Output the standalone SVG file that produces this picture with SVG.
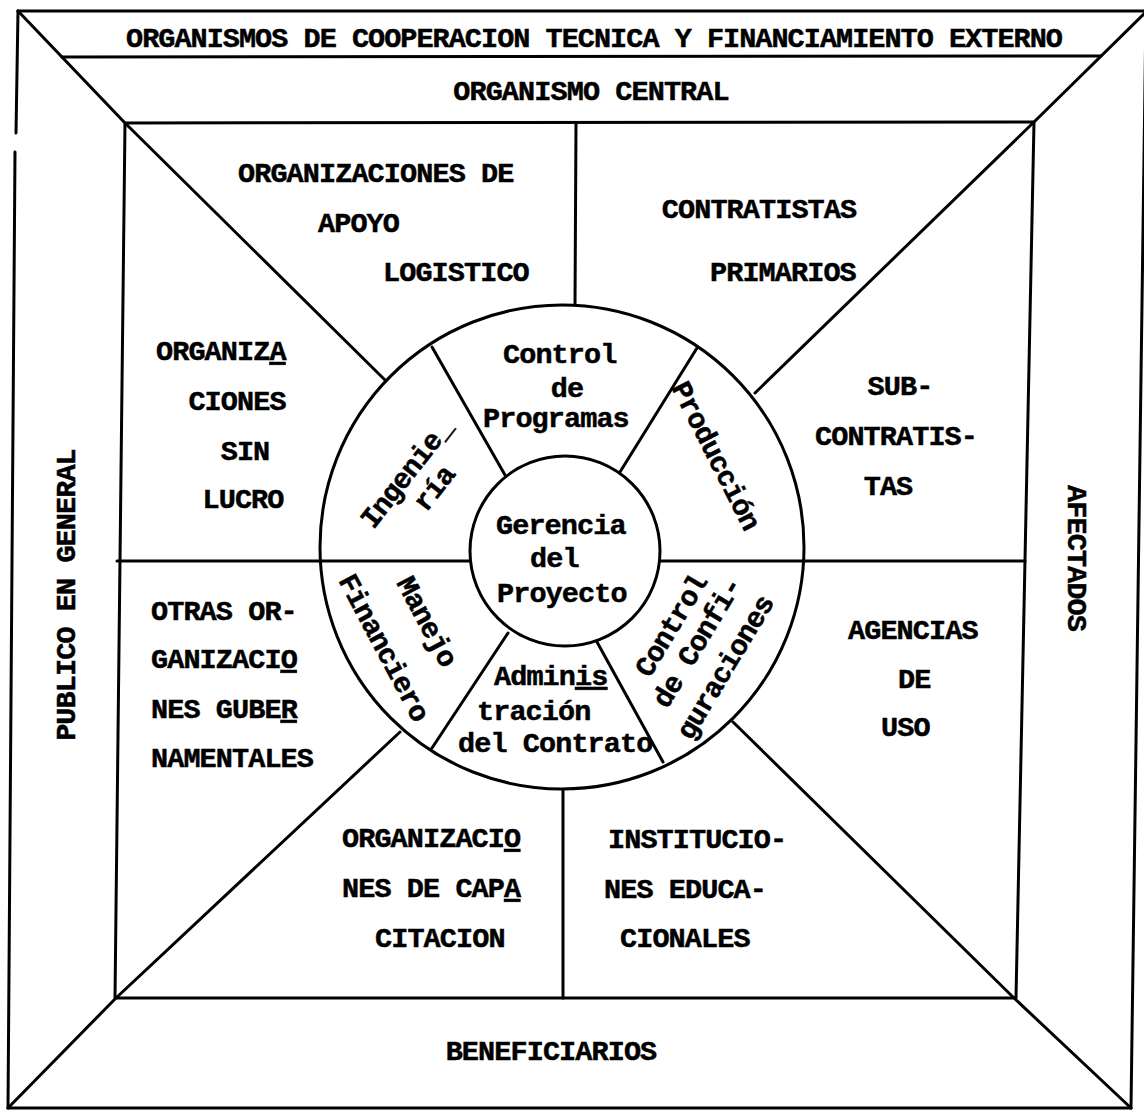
<svg xmlns="http://www.w3.org/2000/svg" width="1144" height="1110" viewBox="0 0 1144 1110">
<style>
.ln{fill:none;stroke:#000;stroke-width:3;stroke-linecap:round;stroke-linejoin:round}
.t{font-family:"Liberation Mono","Courier New",monospace;font-weight:bold;font-size:28.5px;letter-spacing:-0.9px;fill:#000;stroke:#000;stroke-width:0.5}
.m{text-anchor:middle}
.u{text-decoration:underline}
</style>
<rect width="1144" height="1110" fill="#fff"/>
<g id="connectors" class="ln">
<line x1="18" y1="11" x2="1146" y2="11"/>
<line x1="1146" y1="11" x2="1131" y2="1108"/>
<line x1="1131" y1="1108" x2="8" y2="1108"/>
<line x1="8" y1="1108" x2="15" y2="152"/>
<line x1="16" y1="133" x2="18" y2="11"/>
<line x1="62" y1="57" x2="1101" y2="56"/>
<polygon points="125,123 1034,122 1016,998 115,998"/>
<polyline points="18,11 125,123 385,380"/>
<polyline points="1146,12 1034,122 755,393"/>
<polyline points="8,1108 116,998 400,732"/>
<polyline points="1131,1108 1014,998 733,722"/>
<line x1="117" y1="561" x2="470" y2="561"/>
<line x1="660" y1="561" x2="1025" y2="561"/>
<line x1="576" y1="123" x2="575" y2="305"/>
<line x1="563" y1="790" x2="563" y2="998"/>
<circle cx="562" cy="547" r="242"/>
<line x1="432" y1="347" x2="505" y2="475"/>
<line x1="697" y1="348" x2="620" y2="472"/>
<line x1="432" y1="748" x2="508" y2="633"/>
<line x1="663" y1="762" x2="597" y2="642"/>
</g>
<g id="externo" class="t"><text x="126" y="47" textLength="936" lengthAdjust="spacing">ORGANISMOS DE COOPERACION TECNICA Y FINANCIAMIENTO EXTERNO</text></g>
<g id="central" class="t"><text class="m" x="591" y="100">ORGANISMO CENTRAL</text></g>
<g id="apoyo" class="t">
<text x="238" y="182">ORGANIZACIONES  DE</text>
<text x="318" y="232">APOYO</text>
<text x="383" y="281">LOGISTICO</text>
</g>
<g id="contratistas" class="t">
<text class="m" x="759" y="218">CONTRATISTAS</text>
<text x="710" y="281">PRIMARIOS</text>
</g>
<g id="sinlucro" class="t">
<text x="156" y="360">ORGANIZ<tspan class="u">A</tspan></text>
<text class="m" x="237" y="410">CIONES</text>
<text class="m" x="245" y="460">SIN</text>
<text class="m" x="243" y="508">LUCRO</text>
</g>
<g id="subcontratistas" class="t">
<text class="m" x="900" y="395">SUB-</text>
<text class="m" x="896" y="445">CONTRATIS-</text>
<text class="m" x="888" y="495">TAS</text>
</g>
<g id="gubernamentales" class="t">
<text x="151" y="620">OTRAS OR-</text>
<text x="151" y="668">GANIZACI<tspan class="u">O</tspan></text>
<text x="151" y="718">NES GUBE<tspan class="u">R</tspan></text>
<text x="151" y="767">NAMENTALES</text>
</g>
<g id="capacitacion" class="t">
<text x="342" y="847">ORGANIZACI<tspan class="u">O</tspan></text>
<text x="342" y="897">NES DE CAP<tspan class="u">A</tspan></text>
<text x="375" y="947">CITACION</text>
</g>
<g id="agencias" class="t">
<text x="848" y="639">AGENCIAS</text>
<text x="898" y="688">DE</text>
<text x="881" y="736">USO</text>
</g>
<g id="educacionales" class="t">
<text x="608" y="848">INSTITUCIO-</text>
<text x="604" y="898">NES  EDUCA-</text>
<text x="620" y="947">CIONALES</text>
</g>
<g id="beneficiarios" class="t"><text class="m" x="551" y="1060">BENEFICIARIOS</text></g>
<g id="publico" class="t"><text class="m" transform="translate(75,595) rotate(-90)" x="0" y="0">PUBLICO EN GENERAL</text></g>
<g id="afectados" class="t"><text class="m" transform="translate(1068,558) rotate(90)" x="0" y="0">AFECTADOS</text></g>
<g id="gerencia">
<circle class="ln" cx="565" cy="551" r="95" fill="#fff"/>
<g class="t">
<text x="496" y="534">Gerencia</text>
<text x="530" y="567">del</text>
<text x="497" y="602">Proyecto</text>
</g>
</g>
<g id="programas" class="t">
<text x="503" y="363">Control</text>
<text class="m" x="567" y="397">de</text>
<text x="483" y="427">Programas</text>
</g>
<g id="ingenieria" class="t">
<text class="m" transform="translate(407,474) rotate(-52)" y="8">Ingenie_</text>
<text class="m" transform="translate(435,489) rotate(-52)" y="8">ría</text>
</g>
<g id="produccion" class="t"><text class="m" transform="translate(715,456) rotate(63)" y="8">Producción</text></g>
<g id="financiero" class="t">
<text class="m" transform="translate(426,622) rotate(62)" y="8">Manejo</text>
<text class="m" transform="translate(383,648) rotate(62)" y="8">Financiero</text>
</g>
<g id="contrato" class="t">
<text x="494" y="685">Admin<tspan class="u">is</tspan></text>
<text x="477" y="720">tración</text>
<text x="458" y="752">del Contrato</text>
</g>
<g id="configuraciones" class="t">
<text class="m" transform="translate(672,626) rotate(-59)" y="8">Control</text>
<text class="m" transform="translate(698,643) rotate(-59)" y="8">de Confi-</text>
<text class="m" transform="translate(726,668) rotate(-59)" y="8">guraciones</text>
</g>
</svg>
